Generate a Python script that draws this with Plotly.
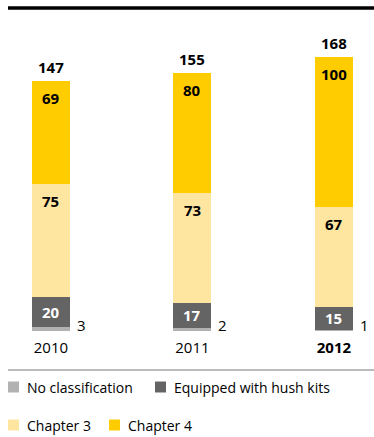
import plotly.graph_objects as go

years = ["2010", "2011", "2012"]
tick_labels = ["2010", "2011", "<b>2012</b>"]
no_class = [3, 2, 1]
hush = [20, 17, 15]
chapter3 = [75, 73, 67]
chapter4 = [69, 80, 100]
totals = [147, 155, 168]

series_names = ["No classification", "Equipped with hush kits", "Chapter 3", "Chapter 4"]
colors = ["#B2B2B2", "#646464", "#FFE6A0", "#FFCC00"]

W, H = 374, 437
PLOT_BOTTOM = 331
FONT = "Open Sans"

def px_x(x):
    return x / W

def px_y(y):
    return (PLOT_BOTTOM - y) / PLOT_BOTTOM

fig = go.Figure()
bw = 0.2686
for vals, name, col in zip([no_class, hush, chapter3, chapter4], series_names, colors):
    fig.add_bar(x=years, y=vals, name=name, marker_color=col, width=bw,
                marker_line_width=0, showlegend=False)

annotations = []
bold15 = dict(size=15, color="black", family=FONT)
for i, yr in enumerate(years):
    base2 = no_class[i] + hush[i]
    base3 = base2 + chapter3[i]
    top = base3 + chapter4[i]
    # hush-kit value, centred, white
    annotations.append(dict(x=i, y=no_class[i] + hush[i] / 2, text=f"<b>{hush[i]}</b>", showarrow=False,
                            yanchor="middle", font=dict(size=15, color="white", family=FONT)))
    # labels at top inside chapter segments
    annotations.append(dict(x=i, y=base3, text=f"<b>{chapter3[i]}</b>", showarrow=False,
                            yanchor="top", yshift=-5, font=bold15))
    annotations.append(dict(x=i, y=top, text=f"<b>{chapter4[i]}</b>", showarrow=False,
                            yanchor="top", yshift=-5, font=bold15))
    # totals
    annotations.append(dict(x=i, y=top, text=f"<b>{totals[i]}</b>", showarrow=False,
                            yanchor="bottom", yshift=2, font=bold15))
    # no classification values to the right
    annotations.append(dict(x=i, y=0, text=str(no_class[i]), showarrow=False,
                            xanchor="left", yanchor="middle", xshift=24, yshift=6,
                            font=bold15 | dict()))

# manual legend
legend_items = [
    (0, 8, 387),
    (1, 155, 387),
    (2, 8, 425),
    (3, 109, 425),
]
shapes = []
for idx, x0, yc in legend_items:
    shapes.append(dict(type="rect", xref="paper", yref="paper",
                       x0=px_x(x0), x1=px_x(x0 + 11), y0=px_y(yc + 5.5), y1=px_y(yc - 5.5),
                       fillcolor=colors[idx], line=dict(width=0)))
    annotations.append(dict(xref="paper", yref="paper", x=px_x(x0 + 17), y=px_y(yc),
                            text=series_names[idx], showarrow=False, xanchor="left", yanchor="middle",
                            font=dict(size=14, color="black", family=FONT)))

# top rule and bottom rule
shapes.append(dict(type="line", xref="paper", yref="paper", x0=px_x(8), x1=1,
                   y0=px_y(8), y1=px_y(8), line=dict(color="black", width=3.5)))
shapes.append(dict(type="line", xref="paper", yref="paper", x0=px_x(8), x1=1,
                   y0=px_y(370), y1=px_y(370), line=dict(color="#7a7a7a", width=1.2)))

fig.update_layout(
    barmode="stack",
    width=W, height=H,
    margin=dict(l=0, r=0, t=0, b=H - PLOT_BOTTOM),
    plot_bgcolor="white", paper_bgcolor="white",
    font=dict(family=FONT, size=15, color="black"),
    xaxis=dict(type="category", range=[-0.36, 2.283], tickvals=years, ticktext=tick_labels,
               showgrid=False, zeroline=False, showline=False, ticks="",
               ticklabelstandoff=6, tickfont=dict(size=15, color="black", family=FONT)),
    yaxis=dict(range=[0, PLOT_BOTTOM / 1.5], visible=False, showgrid=False, zeroline=False),
    annotations=annotations,
    shapes=shapes,
    showlegend=False,
)

fig.write_html("out.html")
